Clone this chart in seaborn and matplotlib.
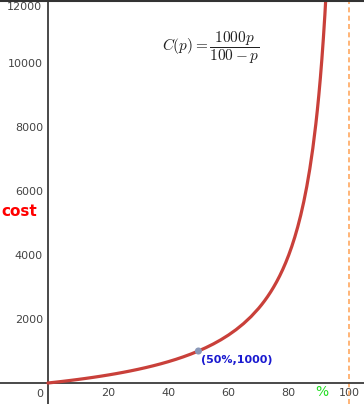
import matplotlib
matplotlib.use("Agg")
import matplotlib.pyplot as plt
import seaborn as sns
import pandas as pd

sns.set_style("white")
plt.rcParams['font.family'] = ['DejaVu Sans']
plt.rcParams['mathtext.fontset'] = 'cm'

# Data: C(p) = 1000p / (100 - p)
percent = [0, 2.5, 5, 7.5, 10, 12.5, 15, 17.5, 20, 22.5, 25, 27.5, 30, 32.5, 35,
           37.5, 40, 42.5, 45, 47.5, 50, 52.5, 55, 57.5, 60, 62.5, 65, 67.5, 70,
           71, 72, 73, 74, 75, 76, 77, 78, 79, 80, 81, 82, 83, 84, 85, 86, 87,
           88, 89, 89.5, 90, 90.5, 91, 91.5, 92, 92.5]
cost = [0, 25.6, 52.6, 81.1, 111.1, 142.9, 176.5, 212.1, 250, 290.3, 333.3, 379.3,
        428.6, 481.5, 538.5, 600, 666.7, 739.1, 818.2, 904.8, 1000, 1105.3,
        1222.2, 1352.9, 1500, 1666.7, 1857.1, 2076.9, 2333.3, 2448.3, 2571.4,
        2703.7, 2846.2, 3000, 3166.7, 3347.8, 3545.5, 3761.9, 4000, 4263.2,
        4555.6, 4882.4, 5250, 5666.7, 6142.9, 6692.3, 7333.3, 8090.9, 8523.8,
        9000, 9526.3, 10111.1, 10764.7, 11500, 12333.3]
point_x = [50]
point_y = [1000]
point_label = "(50%,1000)"
x_ticks = [20, 40, 60, 80, 100]
y_ticks = [2000, 4000, 6000, 8000, 10000]

df = pd.DataFrame({"percent": percent, "cost": cost})
pt = pd.DataFrame({"x": point_x, "y": point_y})

fig = plt.figure(figsize=(3.64, 4.04), dpi=100)
ax = fig.add_axes([0, 0, 1, 1])

sns.lineplot(data=df, x="percent", y="cost", ax=ax, color="#c9403a",
             linewidth=2.3, sort=False, zorder=3)
sns.scatterplot(data=pt, x="x", y="y", ax=ax, color="#8a98b8", s=26,
                edgecolor="none", zorder=4)

ax.axvline(100, color="#ffa860", linestyle=(0, (3, 2)), linewidth=1.2, zorder=2)

ax.set_xlim(-15.9, 105)
ax.set_ylim(-656, 11969)

ax.spines['left'].set_position(('data', 0))
ax.spines['bottom'].set_position(('data', 0))
for s in ['left', 'bottom']:
    ax.spines[s].set_color("#3a3a3a")
    ax.spines[s].set_linewidth(1.3)
ax.spines['right'].set_visible(False)
ax.spines['top'].set_visible(False)

ax.set_xticks(x_ticks)
ax.set_yticks(y_ticks)
ax.tick_params(axis='both', direction='inout', length=5, width=1,
               color="#3a3a3a", labelcolor="#444444", labelsize=8, pad=1)
ax.set_xlabel("")
ax.set_ylabel("")

ax.text(-1.5, -330, "0", ha="right", va="center", fontsize=8, color="#444444")
ax.text(-1.8, 11750, "12000", ha="right", va="center", fontsize=8, color="#444444")

ax.text(-9.5, 5375, "cost", color="#ff0000", fontsize=11, fontweight="bold",
        ha="center", va="center")
ax.text(91, -280, "%", color="#22dd22", fontsize=10, ha="center", va="center")
ax.text(50.8, 730, point_label, color="#1a1ad0", fontsize=8, fontweight="bold",
        ha="left", va="center")
ax.text(54, 10470, r"$C(p) = \dfrac{1000p}{100-p}$", fontsize=11,
        color="#222222", ha="center", va="center")

fig.add_artist(plt.Line2D([0, 1], [0.998, 0.998], transform=fig.transFigure,
                          color="#333333", linewidth=1.5))

fig.savefig("out.png", dpi=100)
